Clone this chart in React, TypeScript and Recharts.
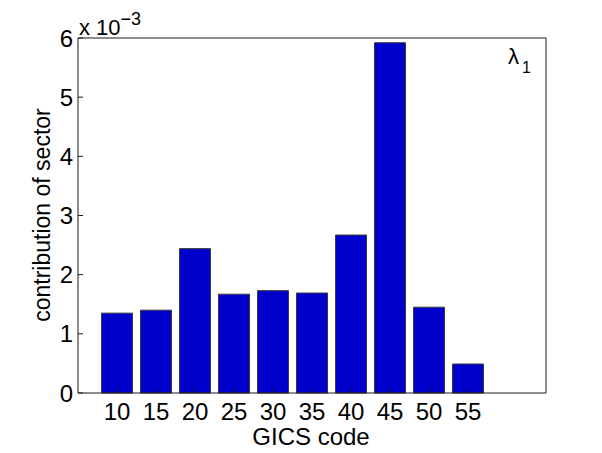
import React from "react"
import { BarChart, Bar, XAxis, YAxis } from "recharts"

// GICS sector codes and their contribution (raw values, axis shows x 10^-3)
const codes = [10, 15, 20, 25, 30, 35, 40, 45, 50, 55]
const contributions = [0.00135, 0.0014, 0.00244, 0.00167, 0.00173, 0.00169, 0.00267, 0.00592, 0.00145, 0.00049]
const yTicks = [0, 0.001, 0.002, 0.003, 0.004, 0.005, 0.006]

const data = codes.map((code, i) => ({ code, value: contributions[i] }))

const FONT = "'Liberation Sans', Arial, Helvetica, sans-serif"
const AXIS = "#1a1a1a"

export default function App() {
  const fmtY = (v: number) => String(Math.round(v * 1000))

  return (
    <div style={{ position: "absolute", left: 0, top: 0, width: 602, height: 453, background: "#fff", fontFamily: FONT }}>
      <BarChart
        width={602}
        height={453}
        data={data}
        margin={{ top: 37, right: 16, bottom: 0, left: 38 }}
      >
        <XAxis
          xAxisId="bottom"
          dataKey="code"
          type="number"
          domain={[5, 65]}
          ticks={codes}
          orientation="bottom"
          stroke={AXIS}
          tickSize={-5}
          tickMargin={15}
          tick={{ fill: "#000", fontSize: 24, fontFamily: FONT }}
          height={60}
        />
        <XAxis
          xAxisId="top"
          dataKey="code"
          type="number"
          domain={[5, 65]}
          ticks={codes}
          orientation="top"
          stroke={AXIS}
          tickSize={-5}
          tick={false}
          height={1}
        />
        <YAxis
          yAxisId="left"
          domain={[0, 0.006]}
          ticks={yTicks}
          tickFormatter={fmtY}
          stroke={AXIS}
          tickSize={-5}
          tickMargin={10}
          tick={{ fill: "#000", fontSize: 24, fontFamily: FONT }}
          width={40}
        />
        <YAxis
          yAxisId="right"
          orientation="right"
          domain={[0, 0.006]}
          ticks={yTicks}
          stroke={AXIS}
          tickSize={-5}
          tick={false}
          width={40}
        />
        <Bar
          xAxisId="bottom"
          yAxisId="left"
          dataKey="value"
          fill="#0000cc"
          stroke="#3a3a3a"
          strokeWidth={1}
          barSize={31}
          isAnimationActive={false}
        />
      </BarChart>

      {/* multiplier above the y axis */}
      <div style={{ position: "absolute", left: 79, top: 9, fontSize: 22, lineHeight: "24px", color: "#000" }}>
        x 10<sup style={{ fontSize: 18, position: "relative", top: -2 }}>−3</sup>
      </div>

      {/* y axis label */}
      <div
        style={{
          position: "absolute",
          left: 42,
          top: 215,
          transform: "translate(-50%, -50%) rotate(-90deg)",
          whiteSpace: "nowrap",
          fontSize: 23,
          color: "#000",
        }}
      >
        contribution of sector
      </div>

      {/* x axis label */}
      <div
        style={{
          position: "absolute",
          left: 311,
          top: 437,
          transform: "translate(-50%, -50%)",
          whiteSpace: "nowrap",
          fontSize: 24,
          lineHeight: "18px",
          color: "#000",
        }}
      >
        GICS code
      </div>

      {/* eigenvalue marker */}
      <div style={{ position: "absolute", left: 508, top: 45, fontSize: 22, lineHeight: "24px", color: "#000" }}>
        λ<sub style={{ fontSize: 16, position: "relative", top: 4, marginLeft: 3 }}>1</sub>
      </div>
    </div>
  )
}
